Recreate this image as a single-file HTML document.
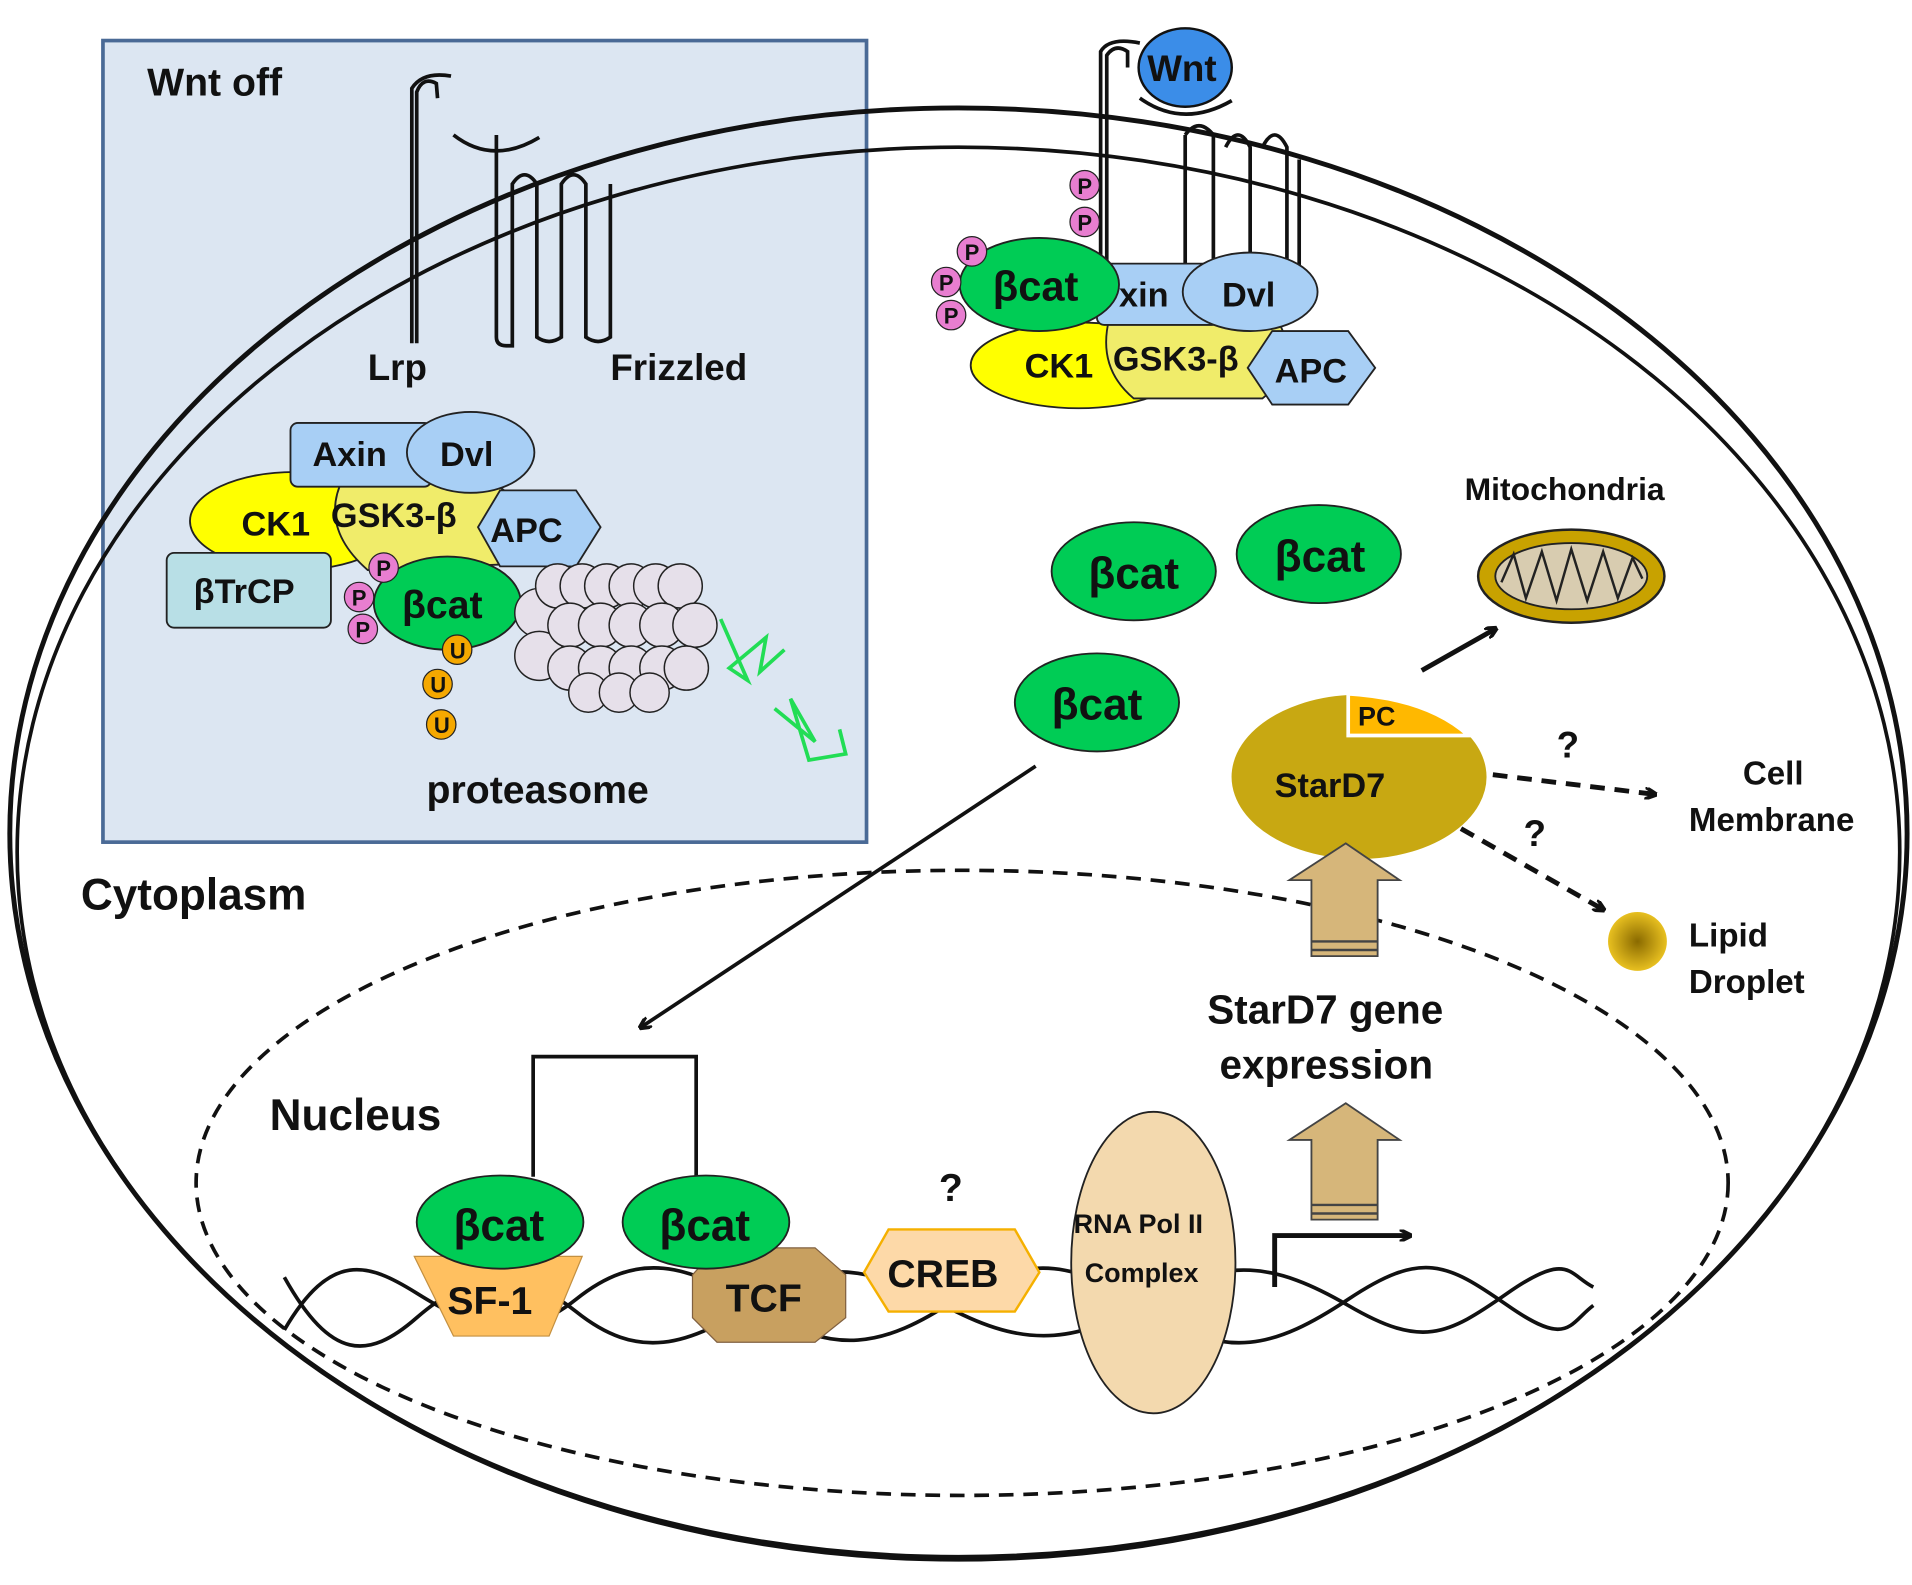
<!DOCTYPE html>
<html><head><meta charset="utf-8"><style>
html,body{margin:0;padding:0;background:#fff}
svg{display:block}
text{font-family:"Liberation Sans",Arial,sans-serif;font-weight:bold;fill:#111}
</style></head><body>
<svg width="1912" height="1585" viewBox="0 0 1560 1293" xmlns="http://www.w3.org/2000/svg">
<defs>
<marker id="ah" markerWidth="10" markerHeight="10" refX="8" refY="5" orient="auto" markerUnits="userSpaceOnUse"><path d="M0,0 L10,5 L0,10" fill="none" stroke="#111" stroke-width="3"/></marker>
<radialGradient id="ld"><stop offset="0" stop-color="#8a6a00"/><stop offset="1" stop-color="#e8c020"/></radialGradient>
</defs>
<rect width="1560" height="1293" fill="#fff"/>
<rect x="84" y="33" width="623" height="654" fill="#dce6f2" stroke="#4a6a96" stroke-width="3"/>
<ellipse cx="782" cy="680" rx="774" ry="592" fill="none" stroke="#111" stroke-width="4"/>
<ellipse cx="782" cy="695" rx="768" ry="575" fill="none" stroke="#111" stroke-width="3"/>
<ellipse cx="785" cy="965" rx="625" ry="255" fill="none" stroke="#111" stroke-width="3" stroke-dasharray="12,8"/>
<text x="120" y="78" font-size="32">Wnt off</text>
<g fill="none" stroke="#111" stroke-width="3">
<path d="M340,280 L340,75 Q345,62 356,68 L357,80 M336,280 L336,72 Q345,58 368,62"/>
<path d="M370,110 Q402,135 440,112"/>
<path d="M405,110 L405,275 Q405,282 413,282 L418,282 L418,150 Q428,135 438,150 L438,275 Q448,282 458,275 L458,150 Q468,135 478,150 L478,275 Q488,282 498,275 L498,150"/>
</g>
<text x="300" y="310" font-size="30">Lrp</text>
<text x="498" y="310" font-size="30">Frizzled</text>
<ellipse cx="240" cy="425" rx="85" ry="40" fill="#ffff00" stroke="#222" stroke-width="1.5"/>
<path d="M280,390 L390,385 L440,420 L420,460 L300,465 Q260,430 280,390Z" fill="#f0ec6a" stroke="#222" stroke-width="1.5"/>
<rect x="237" y="345" width="115" height="52" rx="6" fill="#a8cff5" stroke="#222" stroke-width="1.5"/>
<ellipse cx="384" cy="369" rx="52" ry="33" fill="#a8cff5" stroke="#222" stroke-width="1.5"/>
<polygon points="408,400 470,400 490,430 470,462 408,462 390,430" fill="#a8cff5" stroke="#222" stroke-width="1.5"/>
<rect x="136" y="451" width="134" height="61" rx="6" fill="#b8dfe6" stroke="#222" stroke-width="1.5"/>
<ellipse cx="365" cy="492" rx="60" ry="38" fill="#00cc55" stroke="#222" stroke-width="1.5"/>
<text x="255" y="380" font-size="28">Axin</text><text x="359" y="380" font-size="28">Dvl</text>
<text x="197" y="437" font-size="28">CK1</text><text x="270" y="430" font-size="28" font-weight="normal">GSK3-β</text>
<text x="400" y="442" font-size="28">APC</text>
<text x="158" y="492" font-size="28" font-weight="normal">βTrCP</text>
<text x="328" y="504" font-size="32" font-weight="normal">βcat</text>
<g font-size="18">
<circle cx="313" cy="463" r="12" fill="#e87ed0" stroke="#222"/><text x="307" y="470">P</text>
<circle cx="293" cy="487" r="12" fill="#e87ed0" stroke="#222"/><text x="287" y="494">P</text>
<circle cx="296" cy="513" r="12" fill="#e87ed0" stroke="#222"/><text x="290" y="520">P</text>
<circle cx="373" cy="530" r="12" fill="#f5a800" stroke="#222"/><text x="367" y="537">U</text>
<circle cx="357" cy="558" r="12" fill="#f5a800" stroke="#222"/><text x="351" y="565">U</text>
<circle cx="360" cy="591" r="12" fill="#f5a800" stroke="#222"/><text x="354" y="598">U</text>
</g>
<g fill="#e6e0ea" stroke="#222" stroke-width="1.2">
<circle cx="440" cy="500" r="20"/><circle cx="440" cy="535" r="20"/>
<circle cx="455" cy="478" r="18"/><circle cx="475" cy="478" r="18"/><circle cx="495" cy="478" r="18"/><circle cx="515" cy="478" r="18"/><circle cx="535" cy="478" r="18"/><circle cx="555" cy="478" r="18"/>
<circle cx="465" cy="510" r="18"/><circle cx="490" cy="510" r="18"/><circle cx="515" cy="510" r="18"/><circle cx="540" cy="510" r="18"/><circle cx="567" cy="510" r="18"/>
<circle cx="465" cy="545" r="18"/><circle cx="490" cy="545" r="18"/><circle cx="515" cy="545" r="18"/><circle cx="540" cy="545" r="18"/><circle cx="560" cy="545" r="18"/>
<circle cx="480" cy="565" r="16"/><circle cx="505" cy="565" r="16"/><circle cx="530" cy="565" r="16"/>
</g>
<path d="M588,505 L610,555 L595,545 L625,520 L620,548 L640,530 M632,578 L665,605 L645,570 L660,620 L690,615 L685,595" fill="none" stroke="#22dd55" stroke-width="3"/>
<text x="348" y="655" font-size="32">proteasome</text>
<text x="66" y="742" font-size="36">Cytoplasm</text>
<g fill="none" stroke="#111" stroke-width="3">
<path d="M903,230 L903,45 Q910,35 920,42 L920,55 M898,230 L898,42 Q905,30 930,35"/>
<path d="M930,80 Q965,105 1005,82"/>
<path d="M967,110 L967,240 M967,110 Q978,95 990,110 L990,240 M1000,120 Q1010,100 1020,120 L1020,240 M1030,120 Q1040,100 1050,120 L1050,240 M1060,130 L1060,240"/>
</g>
<ellipse cx="967" cy="55" rx="38" ry="32" fill="#3b8de8" stroke="#111" stroke-width="2"/>
<text x="936" y="66" font-size="30">Wnt</text>
<ellipse cx="880" cy="298" rx="88" ry="35" fill="#ffff00" stroke="#222" stroke-width="1.5"/>
<path d="M905,260 L1040,255 L1060,300 L1030,325 L925,325 Q895,300 905,260Z" fill="#f0ec6a" stroke="#222" stroke-width="1.5"/>
<rect x="895" y="215" width="100" height="50" rx="6" fill="#a8cff5" stroke="#222" stroke-width="1.5"/>
<ellipse cx="1020" cy="238" rx="55" ry="32" fill="#a8cff5" stroke="#222" stroke-width="1.5"/>
<polygon points="1038,270 1100,270 1122,300 1100,330 1038,330 1018,300" fill="#a8cff5" stroke="#222" stroke-width="1.5"/>
<ellipse cx="848" cy="232" rx="65" ry="38" fill="#00cc55" stroke="#222" stroke-width="1.5"/>
<text x="810" y="245" font-size="34" font-weight="normal">βcat</text>
<text x="913" y="250" font-size="28">xin</text><text x="997" y="250" font-size="28">Dvl</text>
<text x="836" y="308" font-size="28">CK1</text><text x="908" y="302" font-size="28" font-weight="normal">GSK3-β</text>
<text x="1040" y="312" font-size="28">APC</text>
<g font-size="18">
<circle cx="885" cy="151" r="12" fill="#e87ed0" stroke="#222"/><text x="879" y="158">P</text>
<circle cx="885" cy="181" r="12" fill="#e87ed0" stroke="#222"/><text x="879" y="188">P</text>
<circle cx="793" cy="205" r="12" fill="#e87ed0" stroke="#222"/><text x="787" y="212">P</text>
<circle cx="772" cy="230" r="12" fill="#e87ed0" stroke="#222"/><text x="766" y="237">P</text>
<circle cx="776" cy="257" r="12" fill="#e87ed0" stroke="#222"/><text x="770" y="264">P</text>
</g>
<g fill="#00cc55" stroke="#222" stroke-width="1.5">
<ellipse cx="925" cy="466" rx="67" ry="40"/><ellipse cx="1076" cy="452" rx="67" ry="40"/><ellipse cx="895" cy="573" rx="67" ry="40"/>
</g>
<g font-size="36" font-weight="normal">
<text x="888" y="480">βcat</text><text x="1040" y="466">βcat</text><text x="858" y="587">βcat</text>
</g>
<text x="1195" y="408" font-size="26">Mitochondria</text>
<ellipse cx="1282" cy="470" rx="76" ry="38" fill="#c8a200" stroke="#222" stroke-width="2"/>
<ellipse cx="1282" cy="470" rx="62" ry="27" fill="#d8ccb0" stroke="#222" stroke-width="1.5"/>
<path d="M1225,475 L1235,452 L1245,488 L1258,450 L1270,490 L1282,448 L1295,490 L1308,450 L1320,488 L1332,455 L1340,472" fill="none" stroke="#222" stroke-width="2"/>
<line x1="1160" y1="547" x2="1220" y2="513" stroke="#111" stroke-width="4" marker-end="url(#ah)"/>
<path d="M1100,566 L1100,600 L1200,600 A105,68 0 1 1 1100,566Z" fill="#c8a812" stroke="#fff" stroke-width="2"/>
<path d="M1100,566 Q1165,570 1198,600 L1100,600 Z" fill="#ffb800" stroke="#fff" stroke-width="3"/>
<text x="1108" y="592" font-size="22">PC</text>
<text x="1040" y="650" font-size="28">StarD7</text>
<line x1="1218" y1="632" x2="1350" y2="648" stroke="#111" stroke-width="4" stroke-dasharray="12,8" marker-end="url(#ah)"/>
<line x1="1192" y1="676" x2="1308" y2="742" stroke="#111" stroke-width="4" stroke-dasharray="12,8" marker-end="url(#ah)"/>
<text x="1270" y="618" font-size="30">?</text><text x="1243" y="690" font-size="30">?</text>
<text x="1422" y="640" font-size="27">Cell</text><text x="1378" y="678" font-size="27">Membrane</text>
<circle cx="1336" cy="768" r="24" fill="url(#ld)"/>
<text x="1378" y="772" font-size="27">Lipid</text><text x="1378" y="810" font-size="27">Droplet</text>
<g fill="#d6b67a" stroke="#444" stroke-width="1.5">
<polygon points="1070,780 1070,718 1052,718 1098,688 1142,718 1124,718 1124,780"/>
<polygon points="1070,995 1070,930 1052,930 1098,900 1142,930 1124,930 1124,995"/>
</g>
<g stroke="#444" stroke-width="2"><line x1="1070" y1="768" x2="1124" y2="768"/><line x1="1070" y1="775" x2="1124" y2="775"/><line x1="1070" y1="983" x2="1124" y2="983"/><line x1="1070" y1="990" x2="1124" y2="990"/></g>
<text x="985" y="835" font-size="33">StarD7 gene</text>
<text x="995" y="880" font-size="33">expression</text>
<line x1="845" y1="625" x2="523" y2="838" stroke="#111" stroke-width="3" marker-end="url(#ah)"/>
<text x="220" y="922" font-size="36">Nucleus</text>
<g fill="none" stroke="#111" stroke-width="3">
<path d="M232,1042 C270,1110 300,1110 340,1075 S420,1030 470,1070 S560,1100 620,1060 S720,1040 780,1070 S880,1095 940,1060 S1040,1030 1100,1065 S1180,1090 1230,1055 S1280,1040 1300,1050"/>
<path d="M232,1085 C270,1020 300,1030 340,1055 S420,1100 470,1060 S560,1030 620,1068 S720,1100 780,1060 S880,1030 940,1070 S1040,1100 1100,1060 S1180,1030 1230,1065 S1280,1080 1300,1065"/>
</g>
<polyline points="435,960 435,862 568,862 568,960" fill="none" stroke="#111" stroke-width="3"/>
<polygon points="338,1025 475,1025 448,1090 370,1090" fill="#ffc060" stroke="#c49040" stroke-width="1"/>
<polygon points="585,1018 665,1018 690,1040 690,1075 665,1095 585,1095 565,1075 565,1040" fill="#c8a060" stroke="#806040"/>
<polygon points="725,1003 828,1003 848,1038 828,1070 725,1070 705,1038" fill="#fdd9a8" stroke="#f5b000" stroke-width="2"/>
<ellipse cx="408" cy="997" rx="68" ry="38" fill="#00cc55" stroke="#222" stroke-width="1.5"/>
<ellipse cx="576" cy="997" rx="68" ry="38" fill="#00cc55" stroke="#222" stroke-width="1.5"/>
<text x="370" y="1012" font-size="36" font-weight="normal">βcat</text>
<text x="538" y="1012" font-size="36" font-weight="normal">βcat</text>
<text x="365" y="1072" font-size="32">SF-1</text>
<text x="592" y="1070" font-size="32">TCF</text>
<text x="724" y="1050" font-size="32">CREB</text>
<text x="766" y="980" font-size="32">?</text>
<ellipse cx="941" cy="1030" rx="67" ry="123" fill="#f3d9ae" stroke="#222" stroke-width="1.5"/>
<text x="876" y="1006" font-size="22">RNA Pol II</text>
<text x="885" y="1046" font-size="22">Complex</text>
<polyline points="1040,1050 1040,1008 1150,1008" fill="none" stroke="#111" stroke-width="4" marker-end="url(#ah)"/>
</svg>
</body></html>
